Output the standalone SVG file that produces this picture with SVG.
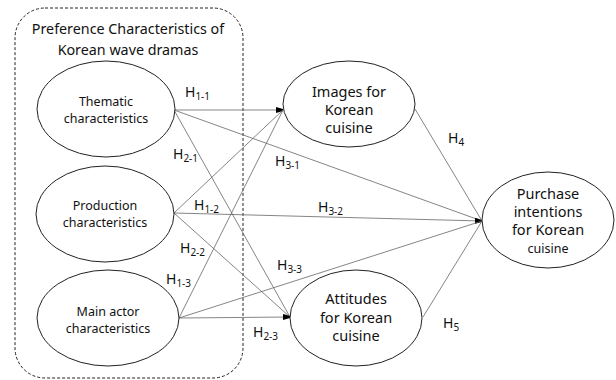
<svg xmlns="http://www.w3.org/2000/svg" width="616" height="380" viewBox="0 0 616 380">
<style>
text{font-family:"Noto Sans","Liberation Sans",sans-serif;fill:#111;}
.n{fill:#fff;stroke:#222;stroke-width:1;}
.c{stroke:#666;stroke-width:0.8;fill:none;}
.t{font-size:12.5px;text-anchor:middle;}
.b{font-size:14.5px;text-anchor:middle;}
.h{font-size:14px;}
.s{font-size:10px;}
</style>
<defs>
<marker id="ah" viewBox="0 0 8 8" refX="7" refY="4" markerWidth="8" markerHeight="8" markerUnits="userSpaceOnUse" orient="auto">
<path d="M0,1 L7,3 L7,5 L0,7 Z" fill="#000"/>
</marker>
</defs>
<rect x="15" y="8" width="228" height="370" rx="30" ry="30" fill="none" stroke="#222" stroke-width="1" stroke-dasharray="3,2"/>
<text x="128" y="34" class="b" style="font-size:14.3px">Preference Characteristics of</text>
<text x="128" y="55" class="b" style="font-size:14.3px">Korean wave dramas</text>
<g id="connectors">
<line class="c" x1="174" y1="110" x2="283" y2="110" marker-end="url(#ah)"/>
<line class="c" x1="174" y1="110" x2="290" y2="317"/>
<line class="c" x1="174" y1="110" x2="482" y2="221"/>
<line class="c" x1="174" y1="213" x2="283" y2="110"/>
<line class="c" x1="174" y1="213" x2="482" y2="221" marker-end="url(#ah)"/>
<line class="c" x1="174" y1="213" x2="290" y2="317"/>
<line class="c" x1="179" y1="318" x2="283" y2="110"/>
<line class="c" x1="179" y1="318" x2="482" y2="221"/>
<line class="c" x1="179" y1="318" x2="290" y2="317" marker-end="url(#ah)"/>
<line class="c" x1="415" y1="109" x2="482" y2="221"/>
<line class="c" x1="423" y1="317" x2="482" y2="221"/>
</g>
<g id="labels">
<text class="h" x="185" y="97">H<tspan class="s" dy="3">1-1</tspan></text>
<text class="h" x="173" y="159">H<tspan class="s" dy="3">2-1</tspan></text>
<text class="h" x="275" y="166">H<tspan class="s" dy="3">3-1</tspan></text>
<text class="h" x="194" y="210">H<tspan class="s" dy="3">1-2</tspan></text>
<text class="h" x="318" y="212">H<tspan class="s" dy="3">3-2</tspan></text>
<text class="h" x="180" y="253">H<tspan class="s" dy="3">2-2</tspan></text>
<text class="h" x="166" y="284">H<tspan class="s" dy="3">1-3</tspan></text>
<text class="h" x="277" y="270">H<tspan class="s" dy="3">3-3</tspan></text>
<text class="h" x="253" y="337">H<tspan class="s" dy="3">2-3</tspan></text>
<text class="h" x="448" y="143">H<tspan class="s" dy="3">4</tspan></text>
<text class="h" x="443" y="328">H<tspan class="s" dy="3">5</tspan></text>
</g>
<g id="thematic">
<ellipse class="n" cx="106" cy="109" rx="69" ry="48"/>
<text class="t" x="106" y="106">Thematic</text>
<text class="t" x="106" y="123">characteristics</text>
</g>
<g id="production">
<ellipse class="n" cx="105" cy="214" rx="69" ry="48"/>
<text class="t" x="105" y="210">Production</text>
<text class="t" x="105" y="227">characteristics</text>
</g>
<g id="mainactor">
<ellipse class="n" cx="108" cy="318" rx="71" ry="48"/>
<text class="t" x="108" y="316">Main actor</text>
<text class="t" x="108" y="333">characteristics</text>
</g>
<g id="images">
<ellipse class="n" cx="349" cy="104" rx="66" ry="43"/>
<text class="b" x="349" y="97">Images for</text>
<text class="b" x="349" y="115">Korean</text>
<text class="b" x="349" y="133">cuisine</text>
</g>
<g id="purchase">
<ellipse class="n" cx="548" cy="220" rx="66" ry="48"/>
<text class="b" x="548" y="199">Purchase</text>
<text class="b" x="548" y="217">intentions</text>
<text class="b" x="548" y="235">for Korean</text>
<text class="t" x="548" y="253">cuisine</text>
</g>
<g id="attitudes">
<ellipse class="n" cx="356" cy="318" rx="66" ry="48"/>
<text class="b" x="356" y="304">Attitudes</text>
<text class="b" x="356" y="323">for Korean</text>
<text class="b" x="356" y="341">cuisine</text>
</g>
</svg>
